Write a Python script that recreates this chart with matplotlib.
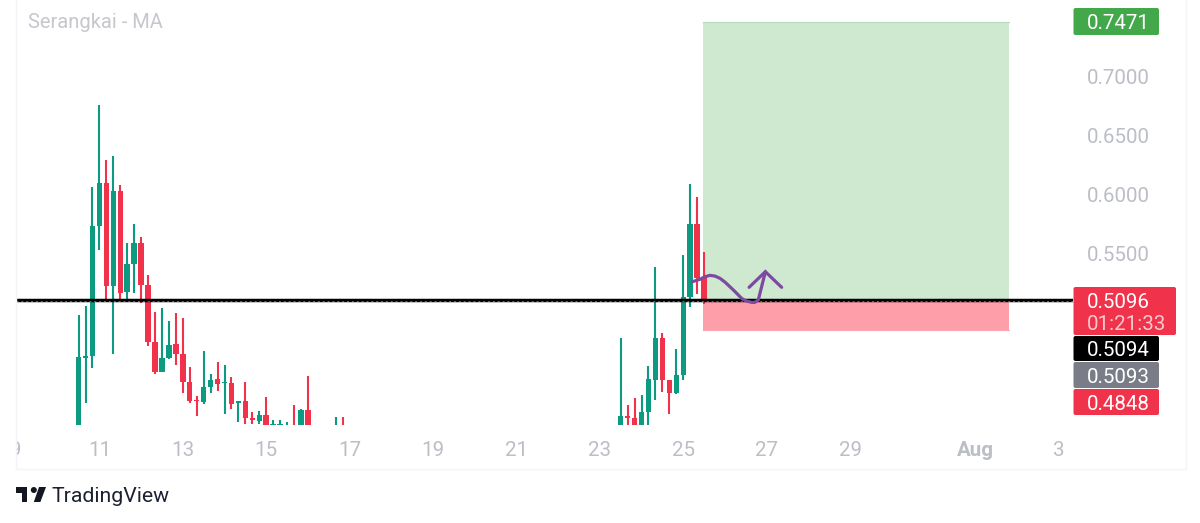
import numpy as np
import matplotlib
matplotlib.use("Agg")
import matplotlib.pyplot as plt
from matplotlib.patches import FancyBboxPatch, Polygon, Circle, Rectangle
from matplotlib.transforms import Bbox, TransformedBbox, IdentityTransform

plt.rcParams['font.family'] = ['Roboto', 'DejaVu Sans']

GREEN = '#0c9a80'
RED = '#f0324a'

# first run of candles, 4h each, from 10 Jul 12:00 (nan = under the visible scale)
t1 = 10.5 + np.arange(39) / 6
high1 = [.4972, .5050, .6063, .6762, .6293, .6330, .6080, .5588, .5748, .5639, .5313, .4997, .5030, .4924, .4990, .4947,
         .4531, .4282, .4668, .4467, .4574, .4546, .4447, .4242, .4401, .4143, .4157, .4276, .4078, .4080, .4058, .4205,
         .4171, .4452, np.nan, np.nan, np.nan, .4103, .4100]
top1 = [.4617, .4625, .5730, .6100, .6100, .6032, .6032, .5407, .5586, .5586, .5228, .4742, .4608, .4719, .4725, .4640,
        .4404, .4248, .4361, .4418, .4424, .4399, .4395, .4237, .4240, .4097, .4120, .4120, .4040, .4040, .4038, .4030,
        .4165, .4165, np.nan, np.nan, np.nan, .4030, .4030]
bottom1 = [.4035, .4610, .4625, .5730, .5222, .5222, .5162, .5171, .5407, .5228, .4742, .4489, .4486, .4608, .4640, .4404,
           .4237, .4242, .4231, .4361, .4384, .4390, .4214, .4220, .4092, .4078, .4072, .4030, .4000, .4000, .4000, .4000,
           .4030, .4030, np.nan, np.nan, np.nan, .4000, .4000]
low1 = [.4000, .4222, .4520, .5526, .5083, .4640, .5083, .5100, .5162, .5075, .4710, .4469, .4486, .4597, .4546, .4310,
        .4222, .4112, .4214, .4310, .4325, .4126, .4169, .4063, .4043, .4043, .4043, .4000, .4000, .4000, .4000, .4000,
        .4000, .4000, np.nan, np.nan, np.nan, .4000, .4000]
up1 = [1, 1, 1, 1, 0, 1, 0, 1, 1, 0, 0, 0, 1, 1, 0, 0, 0, 0, 1, 1, 0, 1, 0, 1, 0, 0, 1, 0, 1, 1, 1, 0, 1, 0, 0, 0, 0, 1, 0]

# second run, from 23 Jul 12:00
t2 = 23.5 + np.arange(13) / 6
high2 = [.4776, .4205, .4267, .4290, .4538, .5379, .4822, .4418, .4680, .5484, .6090, .5975, .5511]
top2 = [.4112, .4112, .4095, .4148, .4424, .4774, .4774, .4418, .4461, .5128, .5745, .5745, .5298]
bottom2 = [.4035, .4095, .4035, .4035, .4148, .4418, .4418, .4305, .4305, .4461, .5128, .5285, .5094]
low2 = [.4000, .4000, .4000, .4000, .4000, .4248, .4319, .4126, .4299, .4418, .5043, .5151, .5066]
up2 = [1, 0, 0, 1, 1, 1, 0, 0, 1, 1, 1, 0, 0]

# long position tool
entry_price = 0.5096
target_price = 0.7471
stop_price = 0.4848
tool_start = 25.47
tool_end = 32.82

# purple hand drawn path and arrow head
sketch_t = [25.22, 25.40, 25.52, 25.64, 25.76, 25.88, 26.00, 26.12, 26.24, 26.40, 26.50, 26.64, 26.71, 26.80, 26.97]
sketch_p = [.5256, .5276, .5298, .5310, .5304, .5285, .5253, .5213, .5172, .5114, .5093, .5080, .5079, .5100, .5341]
arrow_t = [26.58, 26.97, 27.36]
arrow_p = [.5208, .5341, .5208]

x_ticks = [9, 11, 13, 15, 17, 19, 21, 23, 25, 27, 29, 32, 34]
x_labels = ['9', '11', '13', '15', '17', '19', '21', '23', '25', '27', '29', 'Aug', '3']
y_ticks = [0.55, 0.60, 0.65, 0.70]

tag_texts = ['0.7471', '0.5096', '0.5094', '0.5093', '0.4848']
tag_colors = ['#43a84a', RED, '#000000', '#7a7d87', RED]
countdown = '01:21:33'

W, H = 1200, 523
fig = plt.figure(figsize=(W / 100, H / 100), dpi=100, facecolor='white')

ax = fig.add_axes([16 / W, (H - 425) / H, (1073 - 16) / W, 425 / H])
ax.set_xlim(9.06, 34.347)
ax.set_ylim(0.4035, 0.7656)
for s in ax.spines.values():
    s.set_visible(False)

# position boxes
ax.add_patch(Rectangle((tool_start, entry_price), tool_end - tool_start, target_price - entry_price,
                       fc='#cfe8d0', ec='none', zorder=1))
ax.add_patch(Rectangle((tool_start, stop_price), tool_end - tool_start, entry_price - stop_price,
                       fc='#fd9ea8', ec='none', zorder=1))
ax.plot([tool_start, tool_end], [target_price, target_price], color='#b5dcb8', lw=0.8, zorder=1)
ax.plot([tool_start, tool_end], [stop_price, stop_price], color='#f9a9b2', lw=0.8, zorder=1)


def candles(t, high, top, bottom, low, up):
    colors = [GREEN if u else RED for u in up]
    ax.vlines(t, low, high, colors=colors, lw=1.5, zorder=3)
    heights = np.array(top) - np.array(bottom)
    ax.bar(t, heights, bottom=bottom, width=0.13, color=colors, lw=0, zorder=3)


candles(t1, high1, top1, bottom1, low1, up1)
candles(t2, high2, top2, bottom2, low2, up2)

# price lines
ax.axhline(0.5097, color='black', lw=2.5, zorder=4)
ax.axhline(0.5092, color=RED, lw=0.7, dashes=(2, 3), zorder=5)

ax.plot(sketch_t, sketch_p, color='#7c4a9f', lw=2.3, solid_capstyle='round', solid_joinstyle='round', zorder=6)
ax.plot(arrow_t, arrow_p, color='#7c4a9f', lw=2.3, solid_capstyle='round', solid_joinstyle='miter', zorder=6)

ax.set_xticks(x_ticks)
ax.set_xticklabels(x_labels)
ax.yaxis.tick_right()
ax.set_yticks(y_ticks)
ax.set_yticklabels(['%.4f' % v for v in y_ticks])
ax.tick_params(axis='both', length=0, labelcolor='#bcbec6', labelsize=14.8)
ax.tick_params(axis='x', pad=11.7)
ax.tick_params(axis='y', pad=10)
clip = TransformedBbox(Bbox([[16, 0], [W, H]]), IdentityTransform())
for lab in ax.get_xticklabels():
    lab.set_clip_box(clip)
    lab.set_clip_on(True)
    if lab.get_text() == 'Aug':
        lab.set_fontweight('bold')

# overlay in pixels for the frame, tags and footer
ov = fig.add_axes([0, 0, 1, 1], zorder=10)
ov.set_xlim(0, W)
ov.set_ylim(H, 0)
ov.axis('off')
ov.patch.set_alpha(0)

ov.plot([15.5, 15.5, 1185.5, 1185.5], [0, 468.5, 468.5, 0], color='#f3f4f7', lw=1)
ov.text(28, 21, 'Serangkai - MA', color='#c6c7cd', fontsize=14.5, va='center_baseline', ha='left')

tag_boxes = [(8, 35, 1159), (287, 335, 1176), (336, 361, 1159), (362, 388, 1159), (389, 415, 1159)]
for (y0, y1, x1), col in zip(tag_boxes, tag_colors):
    ov.add_patch(FancyBboxPatch((1075.5, y0 + 2), x1 - 1077.5, y1 - y0 - 4,
                                boxstyle='round,pad=2,rounding_size=2', fc=col, ec='none'))
for label, yc in zip(tag_texts, [21.5, 301, 349, 375.5, 402.5]):
    ov.text(1087, yc, label, color='white', fontsize=14.8, va='center_baseline', ha='left')
ov.text(1087, 323, countdown, color='#f8c9cd', fontsize=14.8, va='center_baseline', ha='left')

# TradingView logo and name
sx, sy = 30 / 32, 15 / 15
logo_x = lambda v: 16 + (v - 2) * sx
logo_y = lambda v: 487 + (v - 6) * sy
ov.add_patch(Polygon([(logo_x(a), logo_y(b)) for a, b in [(2, 6), (14, 6), (14, 21), (8, 21), (8, 12), (2, 12)]],
                     fc='#131722', ec='none'))
ov.add_patch(Polygon([(logo_x(a), logo_y(b)) for a, b in [(28, 21), (21, 21), (26.6, 6), (34, 6)]],
                     fc='#131722', ec='none'))
ov.add_patch(Circle((logo_x(21), logo_y(9)), 3, fc='#131722', ec='none'))
ov.text(52, 494, 'TradingView', color='#1c2030', fontsize=15.3, va='center_baseline', ha='left')

fig.savefig('out.png', dpi=100, facecolor='white')
